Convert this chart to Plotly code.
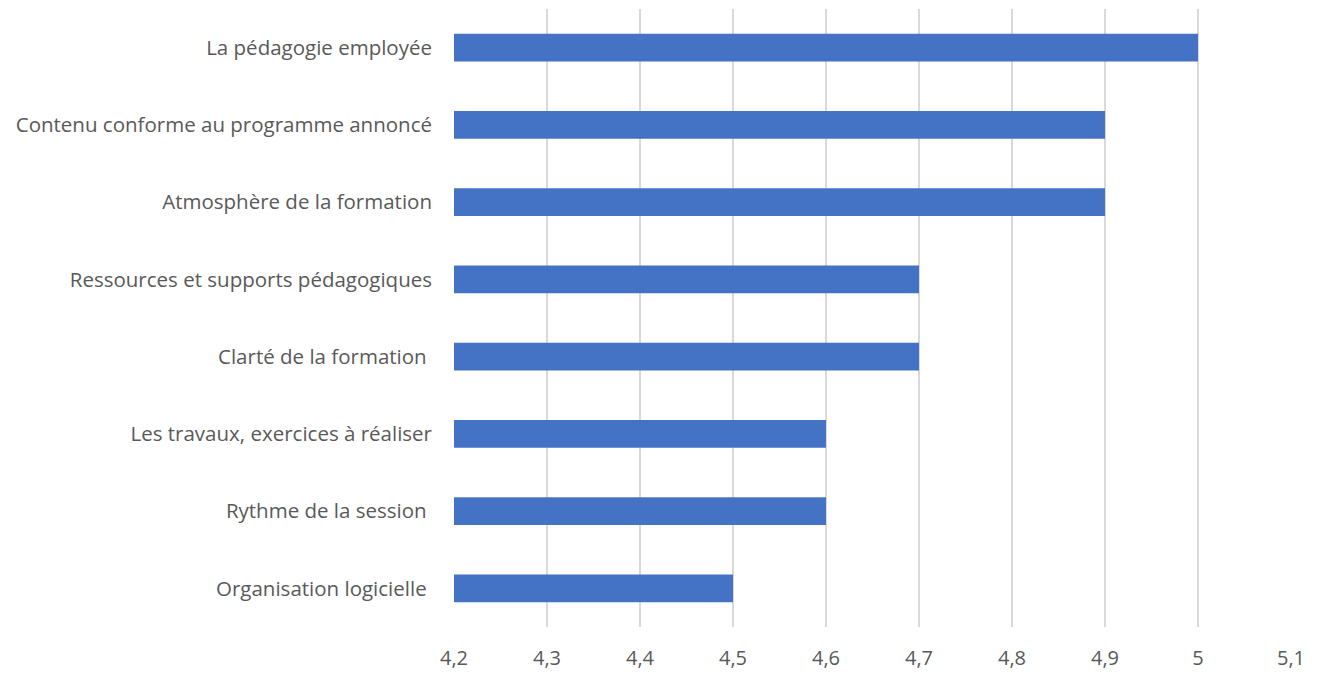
import plotly.graph_objects as go

categories = [
    "La pédagogie employée",
    "Contenu conforme au programme annoncé",
    "Atmosphère de la formation",
    "Ressources et supports pédagogiques",
    "Clarté de la formation\u00a0",
    "Les travaux, exercices à réaliser",
    "Rythme de la session\u00a0",
    "Organisation logicielle\u00a0",
]
values = [5.0, 4.9, 4.9, 4.7, 4.7, 4.6, 4.6, 4.5]
tick_vals = [4.2, 4.3, 4.4, 4.5, 4.6, 4.7, 4.8, 4.9, 5.0, 5.1]
tick_text = ["4,2", "4,3", "4,4", "4,5", "4,6", "4,7", "4,8", "4,9", "5", "5,1"]

fig = go.Figure(go.Bar(
    x=values, y=categories, orientation="h",
    marker=dict(color="#4472C4", line=dict(width=0)),
))

fig.update_layout(
    width=1314, height=665,
    margin=dict(l=446, r=31, t=1, b=46),
    paper_bgcolor="white", plot_bgcolor="white",
    font=dict(family="Open Sans", size=21, color="#595959"),
    bargap=0.64,
    showlegend=False,
)
fig.update_xaxes(
    range=[4.2, 5.1], tickvals=tick_vals, ticktext=tick_text,
    showgrid=True, gridcolor="#D9D9D9", gridwidth=2,
    zeroline=False, showline=False, ticks="",
    ticklabelstandoff=17, automargin=False,
    tickfont=dict(size=20),
)
fig.update_yaxes(
    autorange="reversed", showgrid=False, showline=False, ticks="",
    ticklabelstandoff=21, automargin=False,
    tickfont=dict(size=20.5),
)

fig.write_html("out.html")
